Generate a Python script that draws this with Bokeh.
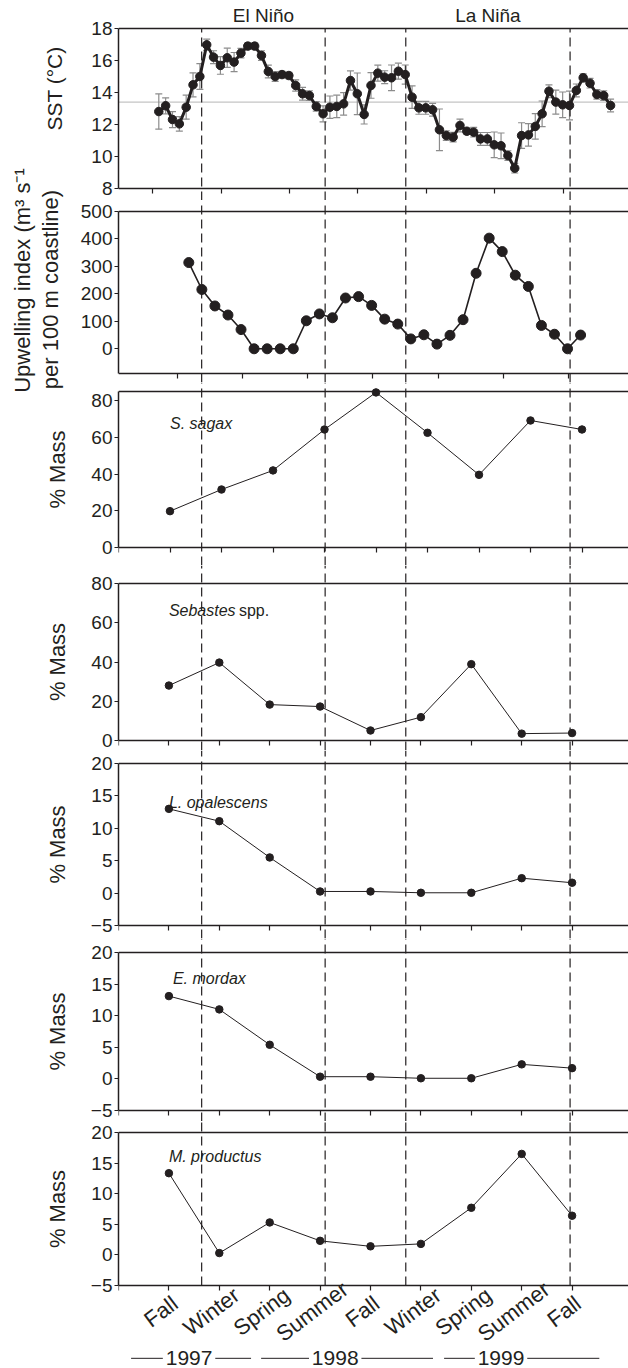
import math
import numpy as np
from bokeh.plotting import figure
from bokeh.layouts import row, column
from bokeh.models import (Range1d, FixedTicker, Span, Whisker, TeeHead,
                          ColumnDataSource, CustomJSTickFormatter)
from bokeh.core.properties import value
from bokeh.embed import file_html
from bokeh.resources import INLINE

# ---------------- data ----------------
sst = [12.81, 13.17, 12.31, 12.04, 13.08, 14.48, 15.0, 16.98, 16.21, 15.69,
       16.17, 15.9, 16.46, 16.9, 16.9, 16.31, 15.31, 15.0, 15.12, 15.06,
       14.44, 13.92, 13.81, 13.13, 12.67, 13.08, 13.13, 13.29, 14.75, 13.92,
       12.63, 14.44, 15.21, 14.96, 14.92, 15.33, 15.12, 13.71, 13.04, 13.04,
       12.92, 11.67, 11.31, 11.21, 11.94, 11.58, 11.52, 11.1, 11.1, 10.73,
       10.67, 10.06, 9.27, 11.31, 11.35, 11.88, 12.67, 14.08, 13.4, 13.23,
       13.19, 14.13, 14.92, 14.58, 13.88, 13.81, 13.19]
sst_err = [1.1, 0.5, 0.5, 0.45, 0.75, 0.75, 0.8, 0.35, 0.4, 0.55,
           0.6, 0.6, 0.3, 0.2, 0.2, 0.3, 0.4, 0.3, 0.2, 0.2,
           0.35, 0.4, 0.3, 0.3, 0.5, 0.7, 0.7, 0.7, 0.6, 1.3,
           0.6, 0.8, 0.5, 0.4, 0.8, 0.5, 0.6, 0.7, 0.4, 0.4,
           0.4, 1.3, 0.3, 0.3, 0.4, 0.2, 0.3, 0.4, 0.4, 0.8,
           0.8, 0.3, 0.3, 0.8, 0.7, 0.8, 0.8, 0.4, 0.75, 0.8,
           0.9, 0.4, 0.25, 0.3, 0.3, 0.3, 0.4]
sst_mean = 13.4

upwelling = [314, 216, 156, 123, 70, 0, 0, 0, 0, 102,
             127, 113, 185, 190, 158, 108, 90, 36, 51, 17,
             49, 106, 275, 403, 354, 268, 227, 85, 53, 0, 50]

seasons = ["Fall", "Winter", "Spring", "Summer", "Fall",
           "Winter", "Spring", "Summer", "Fall"]
sardine = [19.8, 31.6, 42.0, 64.3, 84.5, 62.5, 39.6, 69.2, 64.3]      # S. sagax
rockfish = [28.0, 39.7, 18.3, 17.3, 5.1, 11.9, 38.9, 3.5, 3.8]        # Sebastes spp.
squid = [13.0, 11.1, 5.5, 0.25, 0.25, 0.05, 0.05, 2.3, 1.6]           # L. opalescens
anchovy = [13.1, 11.0, 5.4, 0.35, 0.35, 0.1, 0.1, 2.3, 1.7]           # E. mordax
hake = [13.35, 0.3, 5.3, 2.3, 1.4, 1.8, 7.7, 16.5, 6.4]               # M. productus

enso_bounds = [0.65, 3.1, 4.7, 7.96]        # in season units
enso_labels = ["El Niño", "La Niña"]
years = ["1997", "1998", "1999"]
year_center = [0.40, 3.30, 6.59]
year_from = [-0.75, 1.83, 5.46]
year_to = [1.63, 5.24, 8.54]

sst_yticks = [8, 10, 12, 14, 16, 18]
upw_yticks = [0, 100, 200, 300, 400, 500]
pct80_yticks = [0, 20, 40, 60, 80]
pct20_yticks = [-5, 0, 5, 10, 15, 20]
sst_xticks = [-0.9, 9.1, 19.1, 29.1, 39.1, 49.1, 59.1]
upw_xticks = [-0.9, 4.1, 9.1, 14.1, 19.1, 24.1, 29.1]
season_xticks = list(range(-1, 9))

# ---------------- style / layout ----------------
INK = "#231f20"
GREY = "#8c8c8c"
FONT = "Liberation Sans"

FRAME_X0, FRAME_X1 = 118, 628          # page px of frame left / right
STRIP_W = 74
PANEL_W = FRAME_X1 - STRIP_W
frame_edges = [0, 200, 382, 565, 750, 938, 1121, 1368]
box_top = [28, 211, 391, 583, 763, 952, 1132]
box_bot = [188, 373, 547, 740, 925, 1110, 1285]
val_top = [18, 500, 85, 80, 20, 20, 20]
val_bot = [8, -90, 0, 0, -5, -5, -5]


def x_range_from(px_zero, px_step):
    return Range1d((FRAME_X0 - px_zero) / px_step, (FRAME_X1 - px_zero) / px_step)


main_range = Range1d(-1, -1 + (FRAME_X1 - FRAME_X0) / 50.4)


def make_panel(k, x_range, yticks, xticks):
    ftop, fbot = frame_edges[k], frame_edges[k + 1]
    vt, vb, pt, pb = val_top[k], val_bot[k], box_top[k], box_bot[k]
    ppu = (pb - pt) / (vt - vb)
    y0 = vb - (fbot - pb) / ppu
    y1 = vt + (pt - ftop) / ppu
    p = figure(width=PANEL_W, height=fbot - ftop, x_range=x_range,
               y_range=Range1d(y0, y1), output_backend="svg",
               toolbar_location=None,
               min_border_left=FRAME_X0 - STRIP_W, min_border_right=0,
               min_border_top=0, min_border_bottom=0,
               outline_line_color=None, background_fill_color="white",
               border_fill_color="white")
    p.extra_x_ranges = {"main": main_range}
    p.xgrid.visible = False
    p.ygrid.visible = False

    ya = p.yaxis[0]
    ya.bounds = (vb, vt)
    ya.ticker = FixedTicker(ticks=yticks)
    ya.major_label_overrides = {t: "\u2212%d" % (-t) for t in yticks if t < 0}
    ya.major_tick_out = 4
    ya.major_tick_in = 0
    ya.minor_tick_line_color = None
    ya.axis_line_width = 1.5
    ya.axis_line_color = INK
    ya.major_tick_line_color = INK
    ya.major_tick_line_width = 1.2
    ya.major_label_text_font = FONT
    ya.major_label_text_font_size = "19px"
    ya.major_label_text_color = INK
    ya.major_label_standoff = 2

    xa = p.xaxis[0]
    xa.fixed_location = vb
    xa.ticker = FixedTicker(ticks=xticks)
    xa.formatter = CustomJSTickFormatter(code="return ''")
    xa.major_tick_out = 5
    xa.major_tick_in = 0
    xa.minor_tick_line_color = None
    xa.axis_line_width = 1.5
    xa.axis_line_color = INK
    xa.major_tick_line_color = INK
    xa.major_tick_line_width = 1.2

    p.add_layout(Span(location=vt, dimension="width", line_color=INK,
                      line_width=1.5))
    seg_top = vt if k == 0 else y1
    seg_bot = vb if k == len(val_top) - 1 else y0
    n = len(enso_bounds)
    p.segment(x0=enso_bounds, x1=enso_bounds, y0=[seg_bot] * n,
              y1=[seg_top] * n, x_range_name="main", line_color=INK,
              line_width=1.2, line_dash="9 5")
    return p


def species_label(p, x, y, txt, italic=True, x_offset=0):
    p.text(x=[x], y=[y], text=[txt], text_font=value(FONT),
           text_font_size="16px",
           text_font_style="italic" if italic else "normal",
           text_color=INK, text_align="left", text_baseline="middle",
           x_offset=x_offset)


season_x = np.arange(len(seasons))

# ---- SST panel ----
sst_x = np.arange(len(sst))
p1 = make_panel(0, x_range_from(158.3, 6.845), sst_yticks, sst_xticks)
p1.add_layout(Span(location=sst_mean, dimension="width", line_color="#c4c4c4",
                   line_width=1.2, level="underlay"))
sst_arr = np.array(sst)
err_arr = np.array(sst_err)
src_sst = ColumnDataSource(dict(x=sst_x, y=sst_arr, upper=sst_arr + err_arr,
                                lower=sst_arr - err_arr))
p1.add_layout(Whisker(base="x", upper="upper", lower="lower", source=src_sst,
                      line_color=GREY, line_width=1.2, level="underlay",
                      upper_head=TeeHead(size=7, line_color=GREY, line_width=1.2),
                      lower_head=TeeHead(size=7, line_color=GREY, line_width=1.2)))
p1.line("x", "y", source=src_sst, line_color=INK, line_width=3)
p1.scatter("x", "y", source=src_sst, size=8.5, fill_color=INK, line_color=INK)
enso_mid = [(enso_bounds[0] + enso_bounds[1]) / 2,
            (enso_bounds[2] + enso_bounds[3]) / 2]
p1.text(x=enso_mid, y=[18.8, 18.8], text=enso_labels, x_range_name="main",
        text_font=value(FONT), text_font_size="19px", text_color=INK,
        text_align="center", text_baseline="middle")

# ---- Upwelling panel ----
upw_x = np.arange(len(upwelling))
p2 = make_panel(1, x_range_from(188.3, 13.06), upw_yticks, upw_xticks)
p2.line(upw_x, upwelling, line_color=INK, line_width=1.6)
p2.scatter(upw_x, upwelling, size=10, fill_color=INK, line_color=INK)

# ---- Species panels ----
p3 = make_panel(2, Range1d(-1, -1 + (FRAME_X1 - FRAME_X0) / 51.5),
                pct80_yticks, season_xticks)
p4 = make_panel(3, main_range, pct80_yticks, season_xticks)
p5 = make_panel(4, main_range, pct20_yticks, season_xticks)
p6 = make_panel(5, main_range, pct20_yticks, season_xticks)
p7 = make_panel(6, main_range, pct20_yticks, season_xticks)

for p, vals in [(p3, sardine), (p4, rockfish), (p5, squid), (p6, anchovy),
                (p7, hake)]:
    p.line(season_x, vals, line_color=INK, line_width=1)
    p.scatter(season_x, vals, size=7.5, fill_color=INK, line_color=INK)

species_label(p3, 0, 67.6, "S. sagax")
species_label(p4, 0, 66.2, "Sebastes")
species_label(p4, 0, 66.2, "spp.", italic=False, x_offset=70)
species_label(p5, 0, 14.0, "L. opalescens")
species_label(p6, 0.08, 15.9, "E. mordax")
species_label(p7, 0, 16.0, "M. productus")

# season tick labels and year brackets on bottom panel
p7.text(x=season_x, y=[val_bot[6]] * len(seasons), text=seasons,
        angle=math.radians(37), text_font=value(FONT), text_font_size="22px",
        text_color=INK, text_align="center", text_baseline="middle",
        x_offset=-8, y_offset=26)
YEAR_Y = -16.9
p7.text(x=year_center, y=[YEAR_Y] * len(years), text=years,
        text_font=value(FONT), text_font_size="21px", text_color=INK,
        text_align="center", text_baseline="middle")
gap = 0.52
p7.segment(x0=year_from + [c + gap for c in year_center],
           x1=[c - gap for c in year_center] + year_to,
           y0=[YEAR_Y] * 6, y1=[YEAR_Y] * 6, line_color=INK, line_width=1)

# ---- left strip with axis titles ----
TOTAL_H = frame_edges[-1] - frame_edges[0]
strip = figure(width=STRIP_W, height=TOTAL_H, x_range=Range1d(0, STRIP_W),
               y_range=Range1d(TOTAL_H, 0), x_axis_type=None, y_axis_type=None,
               output_backend="svg", toolbar_location=None, min_border=0,
               outline_line_color=None, background_fill_color="white",
               border_fill_color="white")
strip.xgrid.visible = False
strip.ygrid.visible = False


def strip_text(px, py, txt, size):
    strip.text(x=[px], y=[py], text=[txt], angle=math.pi / 2,
               text_font=value(FONT), text_font_size=size, text_color=INK,
               text_align="center", text_baseline="middle")


strip_text(54, 88, "SST (°C)", "21px")
strip_text(22, 280, "Upwelling index (m³ s⁻¹", "22px")
strip_text(50, 289, "per 100 m coastline)", "22px")
for k in range(2, 7):
    strip_text(57, (box_top[k] + box_bot[k]) / 2, "% Mass", "22px")

layout = row(strip, column(p1, p2, p3, p4, p5, p6, p7))
open("out.html", "w").write(file_html(layout, INLINE, title="SST, upwelling and diet"))
